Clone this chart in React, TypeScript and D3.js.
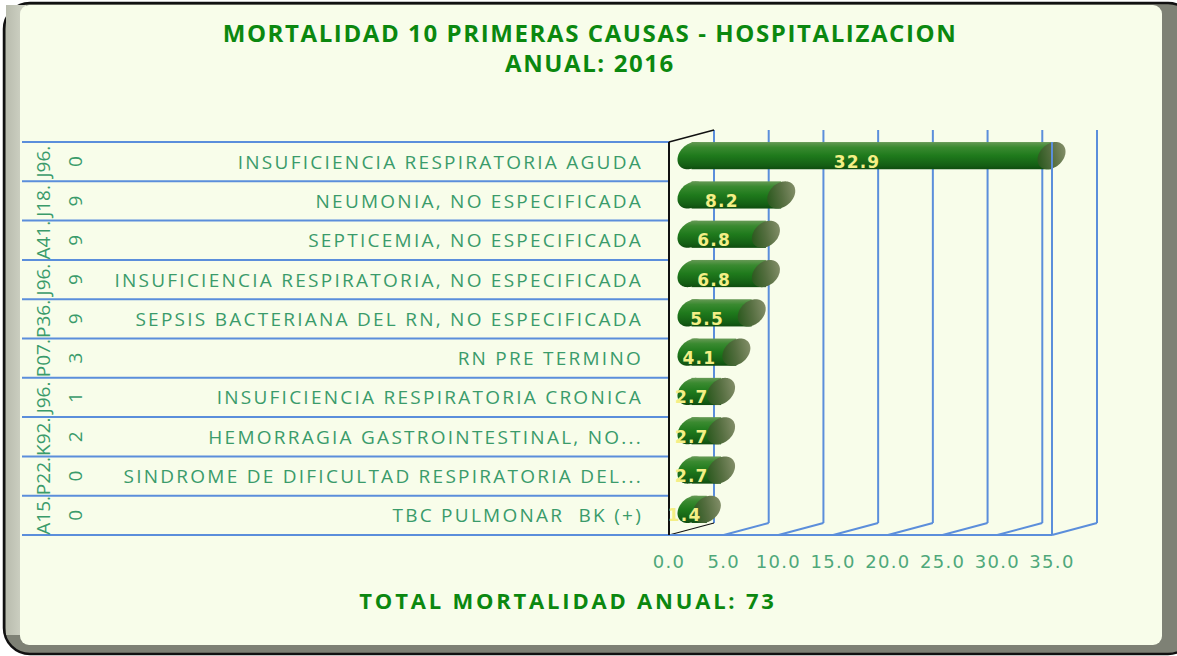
import React from "react";
import * as d3 from "d3";

const categories = [
  "INSUFICIENCIA RESPIRATORIA AGUDA",
  "NEUMONIA, NO ESPECIFICADA",
  "SEPTICEMIA, NO ESPECIFICADA",
  "INSUFICIENCIA RESPIRATORIA, NO ESPECIFICADA",
  "SEPSIS BACTERIANA DEL RN, NO ESPECIFICADA",
  "RN PRE TERMINO",
  "INSUFICIENCIA RESPIRATORIA CRONICA",
  "HEMORRAGIA GASTROINTESTINAL, NO...",
  "SINDROME DE DIFICULTAD RESPIRATORIA DEL...",
  "TBC PULMONAR  BK (+)",
];
const codes = ["J96.0", "J18.9", "A41.9", "J96.9", "P36.9", "P07.3", "J96.1", "K92.2", "P22.0", "A15.0"];
const values = [32.9, 8.2, 6.8, 6.8, 5.5, 4.1, 2.7, 2.7, 2.7, 1.4];
const tickValues = [0, 5, 10, 15, 20, 25, 30, 35];
const titleLines = ["MORTALIDAD 10 PRIMERAS CAUSAS - HOSPITALIZACION", "ANUAL: 2016"];
const footer = "TOTAL MORTALIDAD ANUAL: 73";

const W = 1177;
const H = 656;
const GRID = "#5b8edb";
const LABEL = "#3a9b6a";
const TITLE = "#0b880f";

export default function App() {
  const x0 = 669;
  const x = d3.scaleLinear().domain([0, 35]).range([x0, 1052]);
  const y = d3.scaleBand<number>().domain(d3.range(categories.length)).range([142, 535]);
  const dx = 45;
  const dy = -12;
  const top = 142;
  const bottom = 535;
  const ry = 13;

  const ellipsePath = (cx: number, cy: number) => {
    const pts = d3.range(0, 65).map((i) => {
      const t = (i / 64) * Math.PI * 2;
      return [cx + 14 * Math.cos(t), cy + ry * Math.sin(t) - 4 * Math.cos(t)] as [number, number];
    });
    return d3.line()(pts) + "Z";
  };

  return (
    <svg width={W} height={H} style={{ position: "absolute", left: 0, top: 0 }}>
      <defs>
        <linearGradient id="leftStrip" x1="0" x2="1" y1="0" y2="0">
          <stop offset="0" stopColor="#b9bcae" />
          <stop offset="1" stopColor="#d2d5c7" />
        </linearGradient>
        <linearGradient id="capGrad" x1="0" x2="1" y1="0.6" y2="0.4">
          <stop offset="0" stopColor="#2c5a1f" />
          <stop offset="0.5" stopColor="#556e40" />
          <stop offset="1" stopColor="#808c66" />
        </linearGradient>
        {values.map((v, i) => {
          const cy = (y(i) as number) + y.bandwidth() / 2 + dy / 2;
          return (
            <linearGradient key={i} id={"bg" + i} gradientUnits="userSpaceOnUse" x1="0" x2="0" y1={cy - 14} y2={cy + 14}>
              <stop offset="0" stopColor="#6a9a58" />
              <stop offset="0.2" stopColor="#3a8a30" />
              <stop offset="0.5" stopColor="#1f7a1c" />
              <stop offset="0.85" stopColor="#145e14" />
              <stop offset="1" stopColor="#0e4a0e" />
            </linearGradient>
          );
        })}
      </defs>
      {/* frame */}
      <rect x={4} y={3} width={1190} height={651} rx={26} fill="#7e8175" stroke="#111" strokeWidth={2.5} />
      <rect x={6} y={5} width={20} height={630} fill="url(#leftStrip)" />
      <rect x={20} y={5} width={1142} height={640} rx={9} fill="#f8fdea" />

      {/* titles */}
      {titleLines.map((t, i) => (
        <text key={i} x={590} y={42 + i * 30} textAnchor="middle" fontFamily="'Open Sans', sans-serif" fontWeight="bold" fontSize={24} letterSpacing={1.6} fill={TITLE}>
          {t}
        </text>
      ))}

      {/* back wall gridlines */}
      {tickValues.map((t) => (
        <g key={t}>
          <line x1={x(t) + dx} x2={x(t) + dx} y1={top + dy} y2={bottom + dy} stroke={GRID} strokeWidth={2} />
          <line x1={x(t)} x2={x(t) + dx} y1={bottom} y2={bottom + dy} stroke={t === 0 ? "#111" : GRID} strokeWidth={t === 0 ? 1.2 : 2} />
        </g>
      ))}
      <line x1={x0} x2={x(35)} y1={bottom} y2={bottom} stroke={GRID} strokeWidth={2} />

      {/* category separators */}
      {d3.range(categories.length + 1).map((i) => {
        const yy = i < categories.length ? (y(i) as number) : bottom;
        return <line key={i} x1={22} x2={x0} y1={yy} y2={yy} stroke={GRID} strokeWidth={2} />;
      })}

      {/* left wall */}
      <line x1={x0} x2={x0} y1={top} y2={bottom} stroke="#111" strokeWidth={2} />
      <line x1={x0} x2={x0 + dx} y1={top} y2={top + dy} stroke="#111" strokeWidth={1.5} />

      {/* bars */}
      {values.map((v, i) => {
        const cy = (y(i) as number) + y.bandwidth() / 2 + dy / 2;
        const cxL = x0 + dx / 2;
        const cxR = x(v) + dx / 2;
        return (
          <g key={i}>
            <path d={ellipsePath(cxL, cy)} fill={`url(#bg${i})`} />
            <rect x={cxL} y={cy - 13.6} width={cxR - cxL} height={27.2} fill={`url(#bg${i})`} />
            <path d={ellipsePath(cxR, cy)} fill="url(#capGrad)" />
          </g>
        );
      })}
      <line x1={x(35)} x2={x(35)} y1={top} y2={bottom} stroke={GRID} strokeWidth={2} />

      {/* value labels */}
      {values.map((v, i) => (
        <text key={i} x={x0 + 8 + (x(v) - x0) / 2} y={(y(i) as number) + y.bandwidth() / 2 + 6} textAnchor="middle" fontFamily="'DejaVu Sans', sans-serif" fontWeight="bold" fontSize={17} letterSpacing={1.2} fill="#f4ef86">
          {v.toFixed(1)}
        </text>
      ))}

      {/* category labels */}
      {categories.map((c, i) => (
        <text key={i} x={643} y={(y(i) as number) + y.bandwidth() / 2 + 7} textAnchor="end" fontFamily="'Open Sans', sans-serif" fontSize={19} letterSpacing={2.25} fill={LABEL} style={{ whiteSpace: "pre" }}>
          {c}
        </text>
      ))}

      {/* codes rotated */}
      {codes.map((c, i) => {
        const cy = (y(i) as number) + y.bandwidth() / 2;
        return (
          <g key={i}>
            <text transform={`translate(43,${cy}) rotate(-90)`} textAnchor="middle" dominantBaseline="central" fontFamily="'Open Sans', sans-serif" fontSize={19} fill={LABEL}>
              {c.slice(0, 4)}
            </text>
            <text transform={`translate(75,${cy}) rotate(-90)`} textAnchor="middle" dominantBaseline="central" fontFamily="'Open Sans', sans-serif" fontSize={19} fill={LABEL}>
              {c.slice(4)}
            </text>
          </g>
        );
      })}

      {/* x tick labels */}
      {tickValues.map((t) => (
        <text key={t} x={x(t)} y={568} textAnchor="middle" fontFamily="'DejaVu Sans', sans-serif" fontSize={18} letterSpacing={1.3} fill="#4fa87a">
          {t.toFixed(1)}
        </text>
      ))}

      {/* footer */}
      <text x={568} y={609} textAnchor="middle" fontFamily="'Open Sans', sans-serif" fontWeight="bold" fontSize={22} letterSpacing={2.8} fill={TITLE}>
        {footer}
      </text>
    </svg>
  );
}
